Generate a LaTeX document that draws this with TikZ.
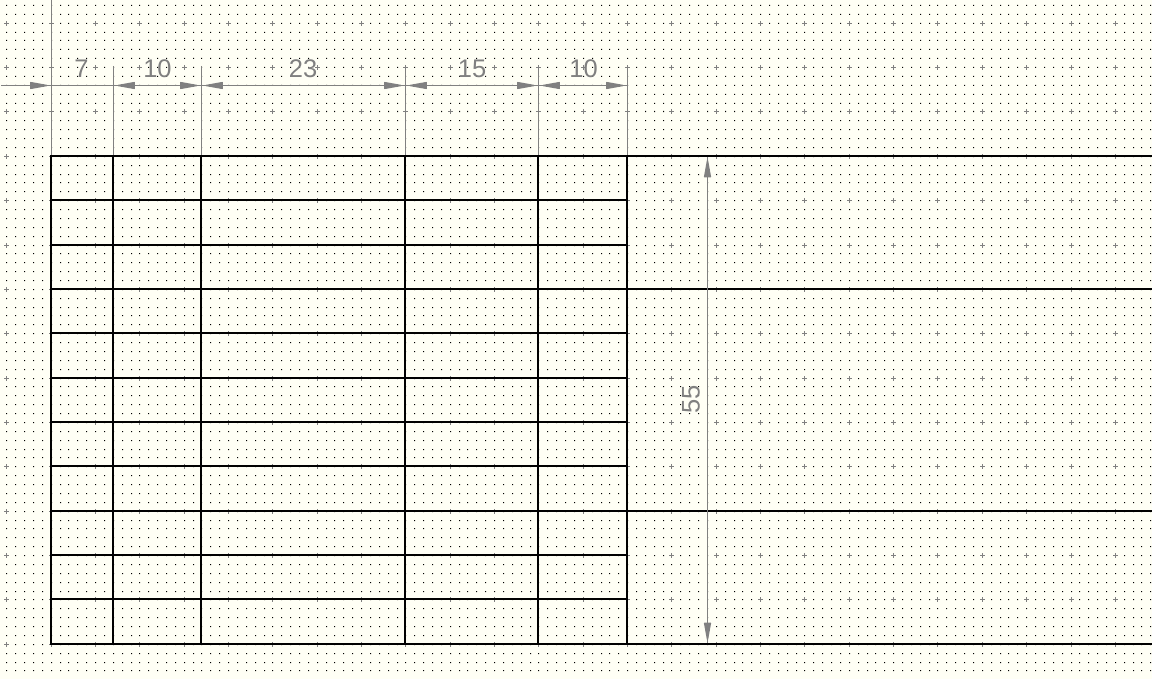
\documentclass[tikz,border=0pt]{standalone}
\usepackage{fontspec}
\setmainfont{Liberation Sans}
\usetikzlibrary{arrows.meta,positioning}
\definecolor{sheet}{HTML}{FFFFF5}
\definecolor{dimgray}{HTML}{808080}
\tikzset
{
    tabline/.style = {line width=0.044cm, black, line cap=rect},
    dimline/.style = {line width=0.02cm, dimgray},
    dimtip/.style  = {dimline, shorten <=0.08cm, shorten >=0.08cm, >={Triangle[length=0.42cm, width=0.14cm, line width=0.028cm, round]}},
    dimtext/.style = {text=dimgray, font=\fontsize{14.5pt}{16pt}\selectfont, inner sep=0pt},
    gridmark/.style = {line width=0.02cm, dimgray}
}

\begin{document}
\begin{tikzpicture}[x=0.02cm, y=-0.02cm]
    \newcommand\GRIDX{8.868}
    \newcommand\GRIDY{8.873}

    \fill[sheet] (0, 0) rectangle (1152, 679);
    \useasboundingbox (0, 0) rectangle (1152, 679);

    % background grid
    \foreach \j in {-3,...,72}
    {
        \pgfmathsetmacro\py{floor(644.3-\GRIDY*\j)}
        \fill[black] \foreach \i [evaluate=\i as \px using {floor(51.19+\GRIDX*\i)}] in {-5,...,124}
            {(\px, \py) rectangle ++(1, 1)};
    }
    \foreach \j in {0,5,...,70}
    {
        \pgfmathsetmacro\py{floor(644.3-\GRIDY*\j)+0.5}
        \draw[gridmark] \foreach \i [evaluate=\i as \px using {floor(51.19+\GRIDX*\i)+0.5}] in {-5,0,...,120}
            {(\px-2.5, \py) -- (\px+2.5, \py) (\px, \py-2.5) -- (\px, \py+2.5)};
    }

    % table corners
    \foreach \name/\x in {a/51, b/113, c/201, d/405, e/538, f/627}
    {
        \coordinate (\name top) at (\x, 156);
        \coordinate (\name bot) at (\x, 644);
        \coordinate (\name dim) at (\x+0.5, 85.5);
        \coordinate (\name ext) at (\x+0.5, 66);
        \coordinate (\name foot) at (\x+0.5, 156);
    }
    \coordinate (aext) at (51.5, 0);
    \coordinate (dimstart) at (1, 85.5);
    \coordinate (vtop) at (707.5, 156);
    \coordinate (vbot) at (707.5, 644);

    % extension lines
    \foreach \name in {a, b, c, d, e, f}
        \draw[dimline] (\name ext) -- (\name foot);
    \draw[dimline] (dimstart) -- (fdim);
    \draw[dimline] (vtop) -- (vbot);

    % table
    \foreach \name in {a, b, c, d, e, f}
        \draw[tabline] (\name top) -- (\name bot);
    \foreach \r in {200,245,333,378,422,466,555,599}
        \draw[tabline] (51, \r) coordinate (rowl\r) -- (627, \r) coordinate (rowr\r);
    \foreach \r in {156,289,511,644}
        \draw[tabline] (51, \r) coordinate (fulll\r) -- (1160, \r) coordinate (fullr\r);

    % arrows
    \draw[dimtip, ->] (dimstart) -- (adim);
    \draw[dimtip, <->] (bdim) -- (cdim);
    \draw[dimtip, <->] (cdim) -- (ddim);
    \draw[dimtip, <->] (ddim) -- (edim);
    \draw[dimtip, <->] (edim) -- (fdim);
    \draw[dimtip, <->] (vtop) -- (vbot);

    \node (la) [dimtext] at (81.5, 68.7) {7};
    \node (lb) [dimtext] at (157.5, 68.7) {10};
    \node (lc) [dimtext] at (303, 68.7) {23};
    \node (ld) [dimtext] at (472, 68.7) {15};
    \node (le) [dimtext] at (583.5, 68.7) {10};
    \node (lv) [dimtext, rotate=90] at (691, 399) {55};
\end{tikzpicture}
\end{document}
